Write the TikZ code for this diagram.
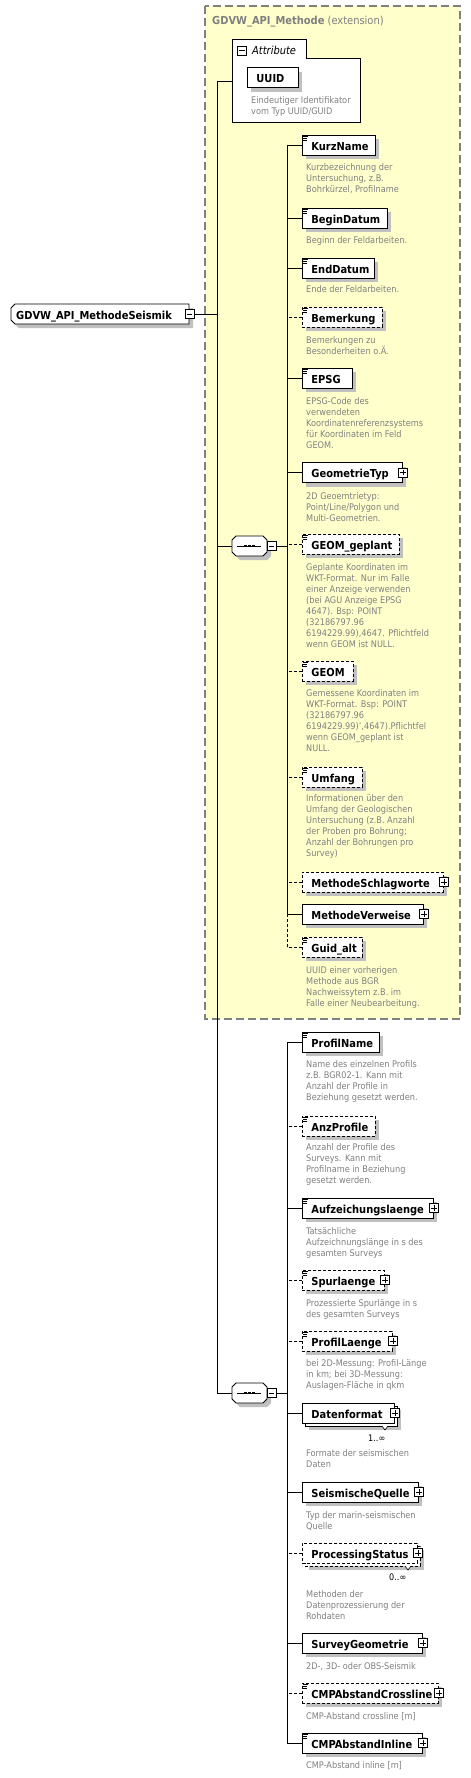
\documentclass[tikz,border=0pt]{standalone}
\usepackage{fontspec}
\setmainfont{DejaVu Sans Condensed}
\usetikzlibrary{shadows}
\definecolor{shgray}{RGB}{192,192,192}
\definecolor{dgray}{RGB}{128,128,128}
\definecolor{yel}{RGB}{255,255,204}
% element box
\newcommand\el[5][]{\pgfmathsetmacro\tw{#4-18}\node[elem,sh,#1,text width=\tw pt] (#2) at (302,#3) {#5};}
% stacked element box (multiple occurrence)
\newcommand\els[5][]{%
  \fill[shgray] (309,#3-3) rectangle (302+#4+7,#3+17);
  \draw[boxline,fill=white,#1] (305,#3-7) rectangle (302+#4+3,#3+13);
  \pgfmathsetmacro\tw{#4-18}\node[elem,#1,text width=\tw pt] (#2) at (302,#3) {#5};
  \draw[line width=0.6pt,fill=white] (302+#4-12,#3+13)--(302+#4-9,#3+17)--(302+#4-6,#3+13);}
% description
\newcommand\dsc[3]{\node[dsc] (#1) at (306,#2-4) {\rule{0pt}{7pt}#3};}
% plus / minus box
\newcommand\pmbox[3]{%
  \node[pm] (#1) at #2 {};
  \draw[line width=0.7pt] ([xshift=2pt]#1.west) -- ([xshift=-2pt]#1.east);
  \ifnum#3=1 \draw[line width=0.7pt] ([yshift=-2pt]#1.north) -- ([yshift=2pt]#1.south);\fi}
% documentation icon
\newcommand\icn[1]{\draw[line width=0.6pt]
  ([xshift=0.6pt,yshift=-2pt]#1.north west) -- ++(5.5,0)
  ([xshift=0.6pt,yshift=-4pt]#1.north west) -- ++(4.5,0)
  ([xshift=0.6pt,yshift=-6pt]#1.north west) -- ++(4.5,0);}
% sequence compositor
\newcommand\seqnode[3]{%
  \begin{scope}[shift={(#2+4,#3+4)}]
    \fill[shgray] (-13.5,-10)--(13.5,-10)--(17.5,-6)--(17.5,6)--(13.5,10)--(-13.5,10)--(-17.5,6)--(-17.5,-6)--cycle;
  \end{scope}
  \begin{scope}[shift={(#2,#3)}]
    \draw[boxline,fill=white] (-13.5,-10)--(13.5,-10)--(17.5,-6)--(17.5,6)--(13.5,10)--(-13.5,10)--(-17.5,6)--(-17.5,-6)--cycle;
    \draw[line width=0.9pt] (-12.5,0)--(11.5,0);
    \fill (-5.6,-1.4) rectangle ++(2.8,2.8);
    \fill (-1.4,-1.4) rectangle ++(2.8,2.8);
    \fill (2.8,-1.4) rectangle ++(2.8,2.8);
  \end{scope}
  \node[minimum width=35pt,minimum height=20pt,inner sep=0pt] (#1) at (#2,#3) {};
  \pmbox{#1m}{(#2+22,#3)}{0}}
\begin{document}
\begin{tikzpicture}[x=1pt,y=-1pt,
  boxline/.style={line width=0.9pt},
  elem/.style={draw,boxline,fill=white,anchor=west,minimum height=20pt,inner xsep=9pt,inner ysep=0pt,
    text height=10.5pt,text depth=0.5pt,align=left,font=\bfseries\fontsize{11}{13}\selectfont},
  sh/.style={general shadow={fill=shgray,shadow xshift=4pt,shadow yshift=-4pt}},
  opt/.style={dash pattern=on 3pt off 2pt},
  conn/.style={line width=0.9pt},
  dsc/.style={anchor=north west,inner sep=0pt,text=dgray,align=left,font=\fontsize{9.1}{11}\selectfont},
  pm/.style={draw,fill=white,line width=0.7pt,minimum size=9pt,inner sep=0pt}]
\useasboundingbox (0,0) rectangle (471,1778);
\fill[white] (0,0) rectangle (471,1778);

% extension box
\draw[fill=yel,draw=dgray,line width=1.2pt,dash pattern=on 8pt off 4pt] (205,6) rectangle (460,1019);
\node[anchor=base west,inner sep=0pt,text=dgray,font=\fontsize{11}{13}\selectfont] (title) at (212,24) {\textbf{GDVW\_API\_Methode} (extension)};

% attribute group
\draw[boxline,fill=white] (232,39)--(306,39)--(306,58)--(360,58)--(360,122)--(232,122)--cycle;
\coordinate (attrw) at (232,81);
\pmbox{attrm}{(242,50.5)}{0}
\node[anchor=base west,inner sep=0pt,font=\itshape\fontsize{11}{13}\selectfont] (attrlbl) at (252,54.5) {Attribute};
\node[elem,sh,text width=33pt] (uuid) at (247,77.5) {UUID};
\node[dsc] (uuidd) at (251,96) {\rule{0pt}{7pt}Eindeutiger Identifikator\\vom Typ UUID/GUID};

% root
\fill[shgray] (19,308)--(193,308)--(193,328)--(19,328)--(15,324)--(15,312)--cycle;
\draw[boxline,fill=white] (15,304)--(189,304)--(189,324)--(15,324)--(11,320)--(11,308)--cycle;
\node[anchor=west,inner sep=0pt,text height=10.5pt,text depth=0.5pt,font=\bfseries\fontsize{11}{13}\selectfont] (root) at (16,314) {GDVW\_API\_MethodeSeismik};
\pmbox{rootm}{(189.5,314)}{0}

% sequences
\seqnode{seqa}{249.5}{546}
\seqnode{seqb}{249.5}{1393}

% group 1
\el{kurz}{145}{73}{KurzName}\icn{kurz}
\dsc{kurzd}{167}{Kurzbezeichnung der\\Untersuchung, z.B.\\Bohrkürzel, Profilname}
\el{begin}{218}{85}{BeginDatum}\icn{begin}
\dsc{begind}{240}{Beginn der Feldarbeiten.}
\el{end}{268}{72}{EndDatum}\icn{end}
\dsc{endd}{289}{Ende der Feldarbeiten.}
\el[opt]{bem}{317}{80}{Bemerkung}\icn{bem}
\dsc{bemd}{340}{Bemerkungen zu\\Besonderheiten o.Ä.}
\el{epsg}{378}{50}{EPSG}\icn{epsg}
\dsc{epsgd}{401}{EPSG-Code des\\verwendeten\\Koordinatenreferenzsystems\\für Koordinaten im Feld\\GEOM.}
\el{geotyp}{472.5}{100}{GeometrieTyp}\pmbox{geotypp}{(geotyp.east)}{1}
\dsc{geotypd}{496}{2D Geoemtrietyp:\\Point/Line/Polygon und\\Multi-Geometrien.}
\el[opt]{geomg}{544}{97}{GEOM\_geplant}\icn{geomg}
\dsc{geomgd}{567}{Geplante Koordinaten im\\WKT-Format. Nur im Falle\\einer Anzeige verwenden\\(bei AGU Anzeige EPSG\\4647). Bsp: POINT\\(32186797.96\\6194229.99),4647. Pflichtfeld\\wenn GEOM ist NULL.}
\el[opt]{geom}{671}{51}{GEOM}\icn{geom}
\dsc{geomd}{693}{Gemessene Koordinaten im\\WKT-Format. Bsp: POINT\\(32186797.96\\6194229.99)',4647).Pflichtfel\\wenn GEOM\_geplant ist\\NULL.}
\el[opt]{umfang}{777}{60}{Umfang}\icn{umfang}
\dsc{umfangd}{798}{Informationen über den\\Umfang der Geologischen\\Untersuchung (z.B. Anzahl\\der Proben pro Bohrung;\\Anzahl der Bohrungen pro\\Survey)}
\el[opt]{schlag}{882}{141}{MethodeSchlagworte}\pmbox{schlagp}{(schlag.east)}{1}
\el{verw}{914}{121}{MethodeVerweise}\pmbox{verwp}{(verw.east)}{1}
\el[opt]{guid}{947}{60}{Guid\_alt}\icn{guid}
\dsc{guidd}{970}{UUID einer vorherigen\\Methode aus BGR\\Nachweissytem z.B. im\\Falle einer Neubearbeitung.}

% group 2
\el{pname}{1042}{77}{ProfilName}\icn{pname}
\dsc{pnamed}{1064}{Name des einzelnen Profils\\z.B. BGR02-1. Kann mit\\Anzahl der Profile in\\Beziehung gesetzt werden.}
\el[opt]{anz}{1126}{73}{AnzProfile}\icn{anz}
\dsc{anzd}{1147}{Anzahl der Profile des\\Surveys. Kann mit\\Profilname in Beziehung\\gesetzt werden.}
\el{aufz}{1208}{131}{Aufzeichungslaenge}\icn{aufz}\pmbox{aufzp}{(aufz.east)}{1}
\dsc{aufzd}{1231}{Tatsächliche\\Aufzeichnungslänge in s des\\gesamten Surveys}
\el[opt]{spur}{1280}{82}{Spurlaenge}\icn{spur}\pmbox{spurp}{(spur.east)}{1}
\dsc{spurd}{1303}{Prozessierte Spurlänge in s\\des gesamten Surveys}
\el[opt]{plaenge}{1341}{90}{ProfilLaenge}\icn{plaenge}\pmbox{plaengep}{(plaenge.east)}{1}
\dsc{plaenged}{1363}{bei 2D-Messung: Profil-Länge\\in km; bei 3D-Messung:\\Auslagen-Fläche in qkm}
\els{datf}{1413}{92}{Datenformat}\pmbox{datfp}{(datf.east)}{1}
\node[anchor=west,inner sep=0pt,font=\fontsize{9}{11}\selectfont] (datfm) at (368,1438) {1..∞};
\dsc{datfd}{1453}{Formate der seismischen\\Daten}
\el{seisq}{1492}{116}{SeismischeQuelle}\pmbox{seisqp}{(seisq.east)}{1}
\dsc{seisqd}{1515}{Typ der marin-seismischen\\Quelle}
\els[opt]{proc}{1553}{115}{ProcessingStatus}\pmbox{procp}{(proc.east)}{1}
\node[anchor=west,inner sep=0pt,font=\fontsize{9}{11}\selectfont] (procm) at (389,1577) {0..∞};
\dsc{procd}{1594}{Methoden der\\Datenprozessierung der\\Rohdaten}
\el{survey}{1643}{120}{SurveyGeometrie}\pmbox{surveyp}{(survey.east)}{1}
\dsc{surveyd}{1666}{2D-, 3D- oder OBS-Seismik}
\el[opt]{cmpc}{1693}{136}{CMPAbstandCrossline}\icn{cmpc}\pmbox{cmpcp}{(cmpc.east)}{1}
\dsc{cmpcd}{1716}{CMP-Abstand crossline [m]}
\el{cmpi}{1743}{120}{CMPAbstandInline}\icn{cmpi}\pmbox{cmpip}{(cmpi.east)}{1}
\dsc{cmpid}{1765}{CMP-Abstand inline [m]}

% connectors
\coordinate (t0top) at (217,81);
\coordinate (t0bot) at (217,1393);
\coordinate (ta) at (287,546);
\coordinate (tb) at (287,1393);
\draw[conn] (rootm.east) -- (rootm.east -| t0top);
\draw[conn] (attrw) -- (t0top) -- (t0bot) -- (seqb.west);
\draw[conn] (seqa.west -| t0top) -- (seqa.west);
\draw[conn] (seqam.east) -- (ta);
\draw[conn] (seqbm.east) -- (tb);
\draw[conn] (kurz.west -| ta) -- (verw.west -| ta);
\draw[conn,opt] (verw.west -| ta) -- (guid.west -| ta);
\foreach \n in {kurz,begin,end,epsg,geotyp,verw} \draw[conn] (\n.west) -- (\n.west -| ta);
\foreach \n in {bem,geomg,geom,umfang,schlag,guid} \draw[conn,opt] (\n.west) -- (\n.west -| ta);
\draw[conn] (pname.west -| tb) -- (cmpi.west -| tb);
\foreach \n in {pname,aufz,datf,seisq,survey,cmpi} \draw[conn] (\n.west) -- (\n.west -| tb);
\foreach \n in {anz,spur,plaenge,proc,cmpc} \draw[conn,opt] (\n.west) -- (\n.west -| tb);
\end{tikzpicture}
\end{document}
